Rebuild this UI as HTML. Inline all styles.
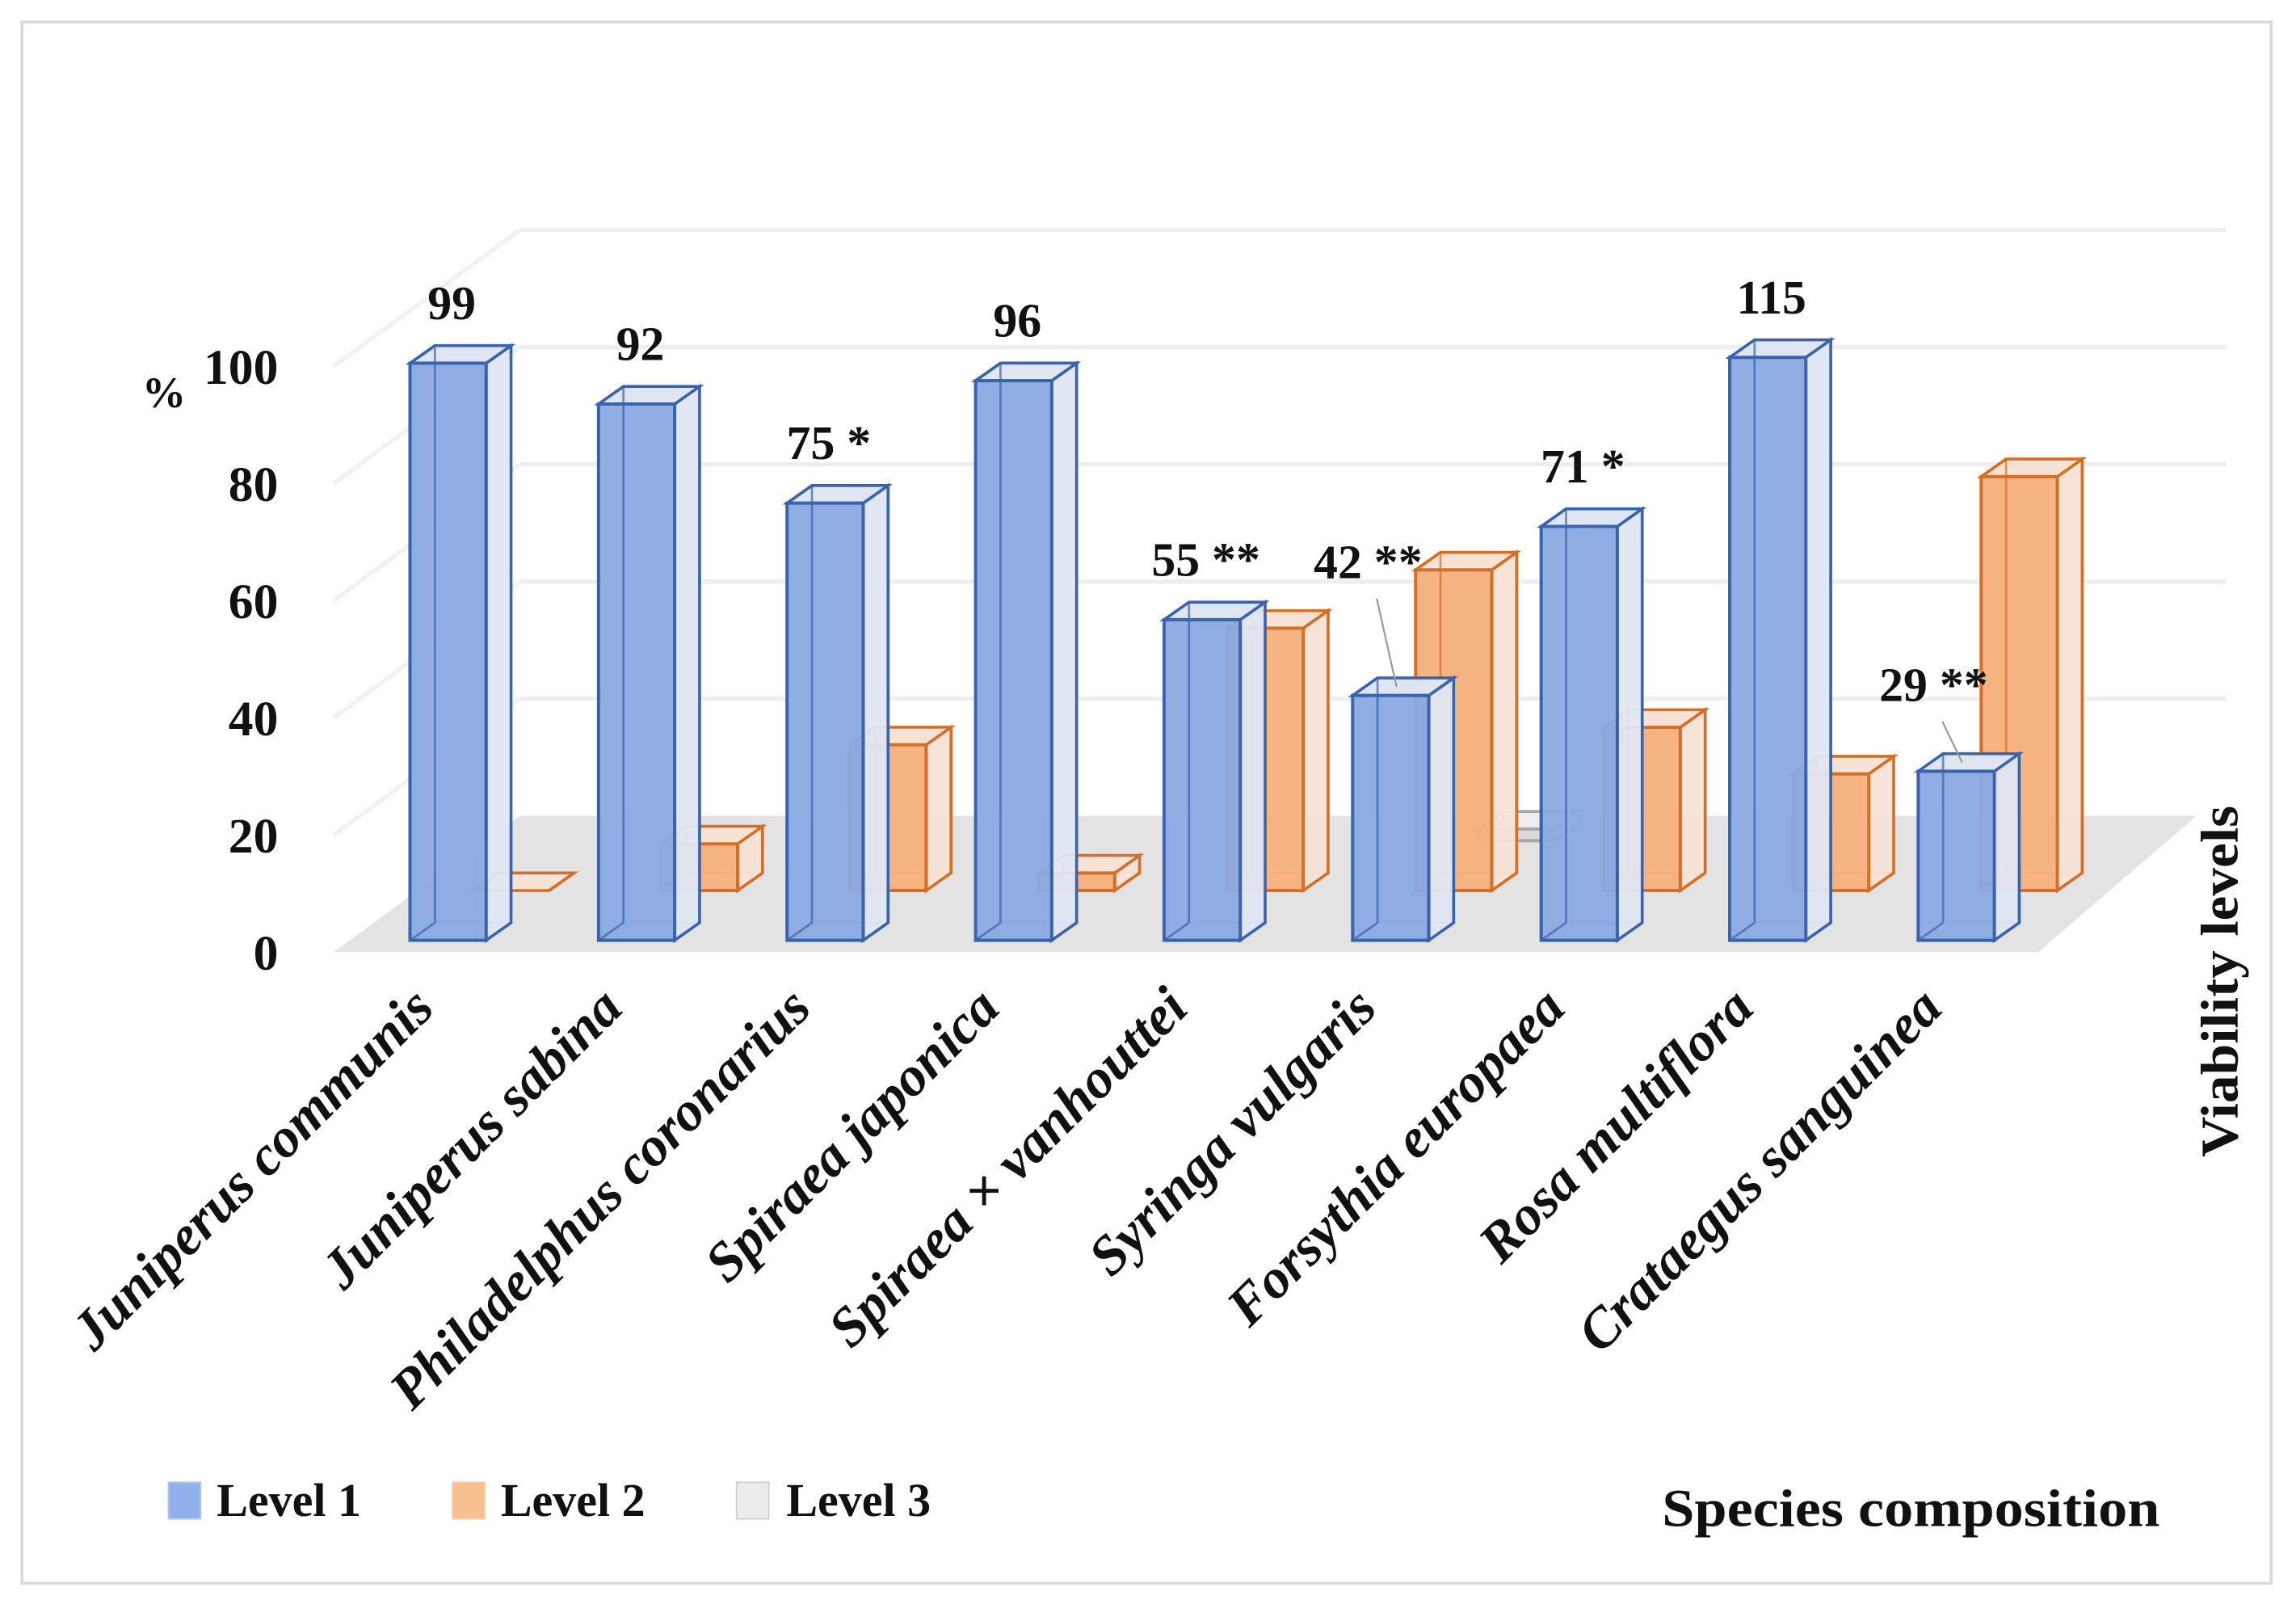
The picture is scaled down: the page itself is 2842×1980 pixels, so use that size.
<!DOCTYPE html>
<html><head><meta charset="utf-8"><style>
html,body{margin:0;padding:0;background:#fff}
svg{display:block}
text{font-family:"Liberation Serif",serif;font-weight:bold;fill:#111}
</style></head><body>
<svg id="chart" width="2842" height="1980" viewBox="0 0 1568 1092.4" xmlns="http://www.w3.org/2000/svg">
<rect x="15" y="15" width="1536" height="1066" fill="#fff" stroke="#d9d9d9" stroke-width="2"/>
<g id="walls"></g>
<g id="bars"></g>
<g id="labels"></g>
<text x="112" y="278" font-size="30" text-anchor="middle" font-weight="normal">%</text>
<g>
<rect x="115" y="1012" width="22" height="25" fill="#8fb0ea" stroke="#b4c7e7"/>
<text x="148" y="1035" font-size="32">Level 1</text>
<rect x="309" y="1012" width="22" height="25" fill="#f8c08e" stroke="#f8cbad"/>
<text x="342" y="1035" font-size="32">Level 2</text>
<rect x="503" y="1012" width="22" height="25" fill="#ececec" stroke="#d0d0d0"/>
<text x="537" y="1035" font-size="32">Level 3</text>
</g>
<text x="1305" y="1042" font-size="36" text-anchor="middle" textLength="340" lengthAdjust="spacingAndGlyphs">Species composition</text>
<text transform="translate(1528,670) rotate(-90)" font-size="36" text-anchor="middle" textLength="240" lengthAdjust="spacingAndGlyphs">Viability levels</text>
</svg>
<script>
const categories = ["Juniperus communis","Juniperus sabina","Philadelphus coronarius","Spiraea japonica","Spiraea × vanhouttei","Syringa vulgaris","Forsythia europaea","Rosa multiflora","Crataegus sanguinea"];
const level1 = [99,92,75,96,55,42,71,115,29];
const level2 = [0,8,25,3,45,55,28,20,71];
const level3 = [0,0,0,0,0,2,0,0,0];
const level1Labels = ["99","92","75 *","96","55 **","42 **","71 *","115","29 **"];
const yTicks = [0,20,40,60,80,100];

const NS="http://www.w3.org/2000/svg";
const X0=280, STEP=128.75, W=52, DX=17, DY=-12, UNIT=3.98, YMAX=100;
const rowOff=[{x:0,y:642},{x:43,y:608},{x:86,y:574}];
function xPos(i,row){return X0+i*STEP+rowOff[row].x;}
function yPos(v,row){return rowOff[row].y-Math.min(v,YMAX)*UNIT;}
function mk(tag,attrs,parent){const e=document.createElementNS(NS,tag);for(const k in attrs)e.setAttribute(k,attrs[k]);parent.appendChild(e);return e;}

const walls=document.getElementById('walls');
const floor=mk('polygon',{points:"228,650 355,557 1500,557 1392,650",fill:"#e3e3e3"},walls);


yTicks.forEach(t=>{
  const yf=650-t*4, yb=557-t*4;
  if(t>0){
    const g1=mk('line',{x1:355,y1:yb,x2:1520,y2:yb,stroke:"#eeeeee","stroke-width":3},walls);
    
    
    const g2=mk('line',{x1:228,y1:yf,x2:355,y2:yb,stroke:"#f2f2f2","stroke-width":3},walls);
    
    
  }
  const tl=mk('text',{x:190,y:yf+12,"font-size":34,"text-anchor":"end"},document.getElementById('labels'));
  tl.textContent=t;
  
  
});

const bars=document.getElementById('bars');
const styles=[
 {fill:"#8aa9e3",side:"#dfe6f2",stroke:"#3a63ad",op:0.95},
 {fill:"#f6b07c",side:"#f7e3d6",stroke:"#d86d26",op:0.95},
 {fill:"#d9d9d9",side:"#eeeeee",stroke:"#a6a6a6",op:0.9}];
function box(i,row,v,name){
  const st=styles[row];
  const x=xPos(i,row), base=rowOff[row].y, top=yPos(v,row);
  const g=mk('g',{},bars);
  
  
  mk('rect',{x:x+DX,y:top+DY,width:W,height:base-top,fill:"none",stroke:st.stroke,"stroke-width":1.5,"stroke-opacity":0.6},g);
  mk('polygon',{points:`${x+W},${top} ${x+W+DX},${top+DY} ${x+W+DX},${base+DY} ${x+W},${base}`,fill:st.side,"fill-opacity":st.op,stroke:st.stroke,"stroke-width":2},g);
  mk('polygon',{points:`${x},${top} ${x+DX},${top+DY} ${x+W+DX},${top+DY} ${x+W},${top}`,fill:st.side,stroke:st.stroke,"stroke-width":2},g);
  mk('rect',{x:x,y:top,width:W,height:base-top,fill:st.fill,"fill-opacity":st.op,stroke:st.stroke,"stroke-width":2.2},g);
  mk('line',{x1:x+DX,y1:top+DY,x2:x+DX,y2:base+DY,stroke:st.stroke,"stroke-width":1.5,"stroke-opacity":0.7},g);
  mk('line',{x1:x,y1:base,x2:x+DX,y2:base+DY,stroke:st.stroke,"stroke-width":1.5,"stroke-opacity":0.7},g);
}
categories.forEach((c,i)=>{ if(level3[i]>0) box(i,2,level3[i],'bar-level3-'+i); });
categories.forEach((c,i)=>{ box(i,1,level2[i],'bar-level2-'+i); });
categories.forEach((c,i)=>{ box(i,0,level1[i],'bar-level1-'+i); });

const labels=document.getElementById('labels');
const lift={5:80,8:48};
level1Labels.forEach((s,i)=>{
  const top=yPos(level1[i],0);
  let cx=xPos(i,0)+W/2+DX/2-6, ty=top-30;
  if(lift[i]){ty=top-lift[i];cx-=18;
    const ln=mk('line',{x1:cx+6,y1:ty+14,x2:xPos(i,0)+W/2+4,y2:top-6,stroke:"#999","stroke-width":1.2},labels);
    
    
  }
  const t=mk('text',{x:cx,y:ty,"font-size":33,"text-anchor":"middle"},labels);
  t.textContent=s;
  
  
});
categories.forEach((c,i)=>{
  const ex=xPos(i,0)+W/2-8, ey=690;
  const t=mk('text',{x:0,y:0,"font-size":38,"text-anchor":"end","font-style":"italic",transform:`translate(${ex},${ey}) rotate(-45)`},labels);
  t.textContent=c;
  
  
});
</script>
</body></html>
